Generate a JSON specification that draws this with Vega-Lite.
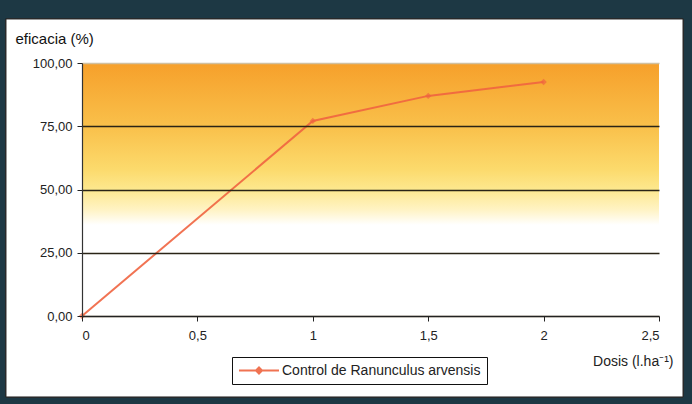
{
  "$schema": "https://vega.github.io/schema/vega-lite/v6.json",
  "width": 577,
  "height": 253,
  "autosize": {"type": "none"},
  "padding": {"left": 82, "top": 63, "right": 33, "bottom": 88},
  "background": "#1d3844",
  "config": {
    "view": {"stroke": "#b8b8b8", "strokeWidth": 1},
    "font": "Liberation Sans"
  },
  "data": {
    "values": [
      {"dosis": 0, "eficacia": 0, "serie": "Control de Ranunculus arvensis"},
      {"dosis": 1, "eficacia": 77.1, "serie": "Control de Ranunculus arvensis"},
      {"dosis": 1.5, "eficacia": 87, "serie": "Control de Ranunculus arvensis"},
      {"dosis": 2, "eficacia": 92.5, "serie": "Control de Ranunculus arvensis"}
    ]
  },
  "layer": [
    {
      "mark": {"type": "rect", "clip": false, "fill": "#ffffff", "stroke": "#2a2a2a", "strokeWidth": 1},
      "encoding": {
        "x": {"datum": -0.3293, "type": "quantitative"},
        "x2": {"datum": 2.604},
        "y": {"datum": 117.4, "type": "quantitative"},
        "y2": {"datum": -32.0}
      }
    },
    {
      "mark": {
        "type": "rect",
        "fill": {
          "gradient": "linear",
          "x1": 0, "y1": 0, "x2": 0, "y2": 1,
          "stops": [
            {"offset": 0, "color": "#f6a02b"},
            {"offset": 0.25, "color": "#f9c04a"},
            {"offset": 0.42, "color": "#fcda6c"},
            {"offset": 0.5, "color": "#fde88e"},
            {"offset": 0.58, "color": "#fff3c4"},
            {"offset": 0.64, "color": "#ffffff"},
            {"offset": 1, "color": "#ffffff"}
          ]
        }
      },
      "encoding": {
        "x": {"datum": 0, "type": "quantitative"},
        "x2": {"datum": 2.5},
        "y": {"datum": 100, "type": "quantitative"},
        "y2": {"datum": 0}
      }
    },
    {
      "mark": {"type": "line", "strokeWidth": 2, "opacity": 0.9},
      "encoding": {
        "x": {
          "field": "dosis", "type": "quantitative",
          "scale": {"domain": [0, 2.5], "nice": false, "zero": false},
          "axis": {
            "zindex": 1,
            "values": [0, 0.5, 1, 1.5, 2, 2.5],
            "labelExpr": "replace(format(datum.value, '~g'), '.', ',')",
            "grid": false,
            "domainColor": "#222222",
            "domainWidth": 1.5,
            "tickColor": "#222222",
            "tickSize": 5,
            "labelPadding": 8,
            "labelFontSize": 13,
            "labelColor": "#222222",
            "title": "Dosis (l.ha⁻¹)",
            "titleFontSize": 14,
            "titleFontWeight": "normal",
            "titleColor": "#222222",
            "titleAlign": "right",
            "titleAnchor": null,
            "titleX": 591,
            "titleY": 45,
            "titleBaseline": "middle"
          }
        },
        "y": {
          "field": "eficacia", "type": "quantitative",
          "scale": {"domain": [0, 100], "nice": false},
          "axis": {
            "zindex": 1,
            "values": [0, 25, 50, 75, 100],
            "labelExpr": "replace(format(datum.value, '.2f'), '.', ',')",
            "grid": true,
            "gridColor": {"condition": {"test": "datum.value == 100 || datum.value == 0", "value": "#d0c0a0"}, "value": "#2a2416"},
            "gridWidth": 1.3,
            "domainColor": "#333333",
            "domainWidth": 1.2,
            "tickColor": "#222222",
            "tickSize": 5,
            "labelPadding": 5,
            "labelFontSize": 13,
            "labelColor": "#222222",
            "title": "eficacia (%)",
            "titleFontSize": 15,
            "titleFontWeight": "normal",
            "titleColor": "#111111",
            "titleAngle": 0,
            "titleAlign": "left",
            "titleAnchor": null,
            "titleX": -67,
            "titleY": -25,
            "titleBaseline": "middle"
          }
        },
        "color": {
          "field": "serie", "type": "nominal",
          "scale": {"range": ["#ef6440"]},
          "legend": {
            "title": null,
            "orient": "none",
            "legendX": 150,
            "legendY": 294,
            "strokeColor": "#111111",
            "fillColor": "#ffffff",
            "padding": 6,
            "labelFontSize": 14,
            "labelColor": "#222222",
            "labelOffset": 2,
            "labelLimit": 400,
            "symbolType": "M-1,0L1,0M0,-0.15L0.15,0L0,0.15L-0.15,0Z",
            "symbolSize": 1600,
            "symbolStrokeWidth": 2,
            "clipHeight": 15
          }
        }
      }
    },
    {
      "mark": {"type": "point", "shape": "diamond", "filled": true, "size": 40},
      "encoding": {
        "x": {"field": "dosis", "type": "quantitative"},
        "y": {"field": "eficacia", "type": "quantitative"},
        "color": {"field": "serie", "type": "nominal"}
      }
    }
  ]
}
